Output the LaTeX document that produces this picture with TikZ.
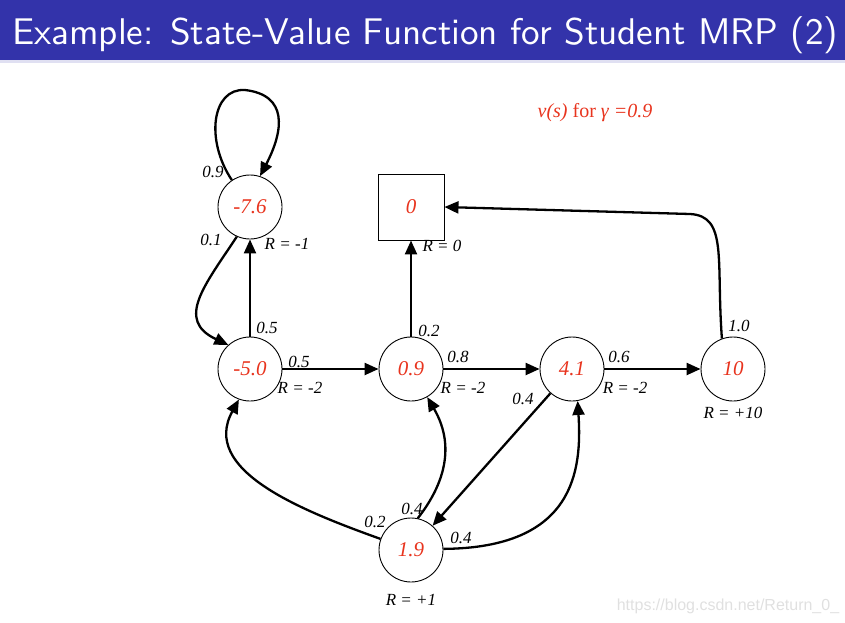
\documentclass[tikz,border=0pt]{standalone}
\usepackage{fontspec}
\setmainfont{Liberation Serif}
\newfontfamily\wmfont{Liberation Sans}
\usetikzlibrary{arrows.meta}
\definecolor{titleblue}{RGB}{51,51,170}
\definecolor{valred}{RGB}{232,52,30}
\begin{document}
\begin{tikzpicture}[x=1pt,y=-1pt,
  st/.style={circle,draw,line width=0.9pt,minimum size=64pt,inner sep=0pt,font=\itshape\fontsize{21}{21}\selectfont,text=valred},
  term/.style={rectangle,draw,line width=0.9pt,minimum size=66pt,inner sep=0pt,font=\itshape\fontsize{21}{21}\selectfont,text=valred},
  edge/.style={line width=2.3pt,-{Triangle[length=14pt,width=12pt]}},
  lab/.style={font=\itshape\fontsize{17}{17}\selectfont,inner sep=0pt}]
\useasboundingbox (0,0) rectangle (845,623);
\fill[titleblue] (0,0) rectangle (845,60);
\fill[titleblue!15] (0,60) rectangle (845,63);
\node[anchor=base west,text=white,inner sep=0pt] (title) at (12,45) {\resizebox{826pt}{!}{\sffamily Example: State-Value Function for Student MRP (2)}};

\node[st] (A) at (250,207) {-7.6};
\node[st] (B) at (250,369) {-5.0};
\node[st] (C) at (411,369) {0.9};
\node[st] (D) at (572,369) {4.1};
\node[st] (E) at (733,369) {10};
\node[st] (F) at (411,550) {1.9};
\node[term] (T) at (411,207) {0};

\node[font=\fontsize{20}{20}\selectfont,text=valred,inner sep=0pt] (vs) at (595,113) {\textit{v(s)} for \textit{γ =0.9}};

% edges
\draw[edge] (A.124) .. controls (205,140) and (212,88) .. (245,90) .. controls (288,95) and (284,130) .. (A.72);
\draw[edge] (A.246) .. controls (205,285) and (175,320) .. (B.132);
\draw[edge] (B) -- (A);
\draw[edge] (B) -- (C);
\draw[edge] (C) -- (T);
\draw[edge] (C) -- (D);
\draw[edge] (D) -- (E);
\draw[edge] (E.110) .. controls (716,260) and (728,216) .. (690,214) -- (T.east);
\draw[edge] (D) -- (F);
\draw[edge] (F.160) .. controls (300,510) and (200,470) .. (B.250);
\draw[edge] (F.78) .. controls (440,490) and (458,450) .. (C.300);
\draw[edge] (F.2) .. controls (575,548) and (582,470) .. (D.280);

% labels
\node[lab] (lA) at (287,244) {R = -1};
\node[lab] (lT) at (442,246) {R = 0};
\node[lab] (lB) at (300,388) {R = -2};
\node[lab] (lC) at (463,388) {R = -2};
\node[lab] (lD) at (625,388) {R = -2};
\node[lab] (lE) at (733,413) {R = +10};
\node[lab] (lF) at (411,600) {R = +1};

\node[lab] (p1) at (213,172) {0.9};
\node[lab] (p2) at (211,240) {0.1};
\node[lab] (p3) at (267,328) {0.5};
\node[lab] (p4) at (299,362) {0.5};
\node[lab] (p5) at (429,331) {0.2};
\node[lab] (p6) at (458,357) {0.8};
\node[lab] (p7) at (523,399) {0.4};
\node[lab] (p8) at (619,357) {0.6};
\node[lab] (p9) at (739,326) {1.0};
\node[lab] (p10) at (375,522) {0.2};
\node[lab] (p11) at (412,509) {0.4};
\node[lab] (p12) at (461,538) {0.4};

\node[font=\wmfont\fontsize{16}{16}\selectfont,text=black!12,inner sep=0pt] (wm) at (728,606) {https://blog.csdn.net/Return\_0\_};
\end{tikzpicture}
\end{document}
